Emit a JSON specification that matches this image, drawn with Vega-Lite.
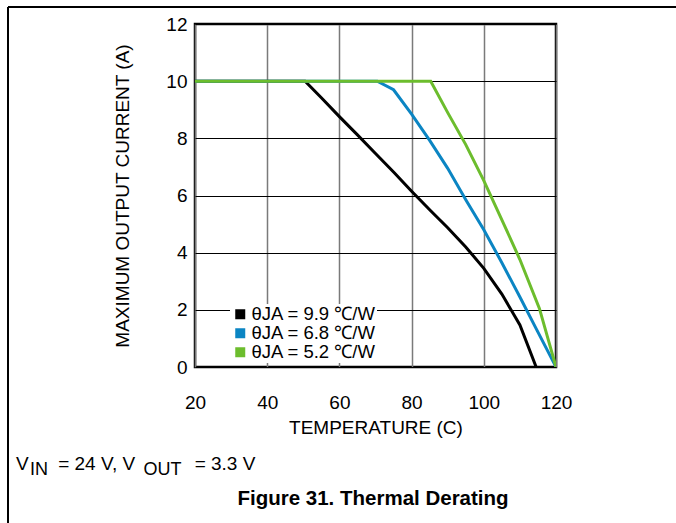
{
  "$schema": "https://vega.github.io/schema/vega-lite/v6.json",
  "width": 361,
  "height": 343,
  "autosize": {"type": "none"},
  "padding": {"left": 195, "top": 24, "right": 120, "bottom": 156},
  "background": "white",
  "config": {
    "font": "Liberation Sans",
    "view": {"stroke": "#000000", "strokeWidth": 2.5},
    "axis": {
      "labelFont": "Liberation Sans",
      "labelFontSize": 19,
      "labelColor": "#000000",
      "labelFlush": false,
      "labelOverlap": false,
      "titleFont": "Liberation Sans",
      "titleFontSize": 19,
      "titleFontWeight": "normal",
      "titleColor": "#000000",
      "ticks": false,
      "domain": false,
      "grid": true
    },
    "axisX": {
      "labelPadding": 26,
      "titlePadding": 6,
      "gridColor": "#7a7a7a",
      "gridWidth": 1.5,
      "gridOpacity": 1
    },
    "axisY": {
      "labelPadding": 8,
      "titlePadding": 33,
      "gridColor": "#000000",
      "gridWidth": 1.2,
      "gridOpacity": 1
    },
    "legend": {
      "labelFont": "Liberation Sans",
      "labelFontSize": 18.5,
      "labelColor": "#000000"
    }
  },
  "layer": [
    {
      "data": {
        "values": [
          {"t": 20, "i": 10, "s": "θJA = 9.9 ℃/W"},
          {"t": 50.5, "i": 10, "s": "θJA = 9.9 ℃/W"},
          {"t": 55, "i": 9.42, "s": "θJA = 9.9 ℃/W"},
          {"t": 60, "i": 8.76, "s": "θJA = 9.9 ℃/W"},
          {"t": 65, "i": 8.12, "s": "θJA = 9.9 ℃/W"},
          {"t": 70, "i": 7.47, "s": "θJA = 9.9 ℃/W"},
          {"t": 75, "i": 6.82, "s": "θJA = 9.9 ℃/W"},
          {"t": 80, "i": 6.15, "s": "θJA = 9.9 ℃/W"},
          {"t": 85, "i": 5.5, "s": "θJA = 9.9 ℃/W"},
          {"t": 90, "i": 4.87, "s": "θJA = 9.9 ℃/W"},
          {"t": 95, "i": 4.2, "s": "θJA = 9.9 ℃/W"},
          {"t": 100, "i": 3.45, "s": "θJA = 9.9 ℃/W"},
          {"t": 105, "i": 2.55, "s": "θJA = 9.9 ℃/W"},
          {"t": 110, "i": 1.47, "s": "θJA = 9.9 ℃/W"},
          {"t": 114.5, "i": 0, "s": "θJA = 9.9 ℃/W"},
          {"t": 20, "i": 10, "s": "θJA = 6.8 ℃/W"},
          {"t": 70.5, "i": 10, "s": "θJA = 6.8 ℃/W"},
          {"t": 75, "i": 9.7, "s": "θJA = 6.8 ℃/W"},
          {"t": 80, "i": 8.85, "s": "θJA = 6.8 ℃/W"},
          {"t": 85, "i": 7.93, "s": "θJA = 6.8 ℃/W"},
          {"t": 90, "i": 6.95, "s": "θJA = 6.8 ℃/W"},
          {"t": 95, "i": 5.85, "s": "θJA = 6.8 ℃/W"},
          {"t": 100, "i": 4.8, "s": "θJA = 6.8 ℃/W"},
          {"t": 105, "i": 3.65, "s": "θJA = 6.8 ℃/W"},
          {"t": 110, "i": 2.45, "s": "θJA = 6.8 ℃/W"},
          {"t": 115, "i": 1.22, "s": "θJA = 6.8 ℃/W"},
          {"t": 120, "i": 0, "s": "θJA = 6.8 ℃/W"},
          {"t": 20, "i": 10, "s": "θJA = 5.2 ℃/W"},
          {"t": 85.3, "i": 10, "s": "θJA = 5.2 ℃/W"},
          {"t": 90, "i": 8.9, "s": "θJA = 5.2 ℃/W"},
          {"t": 95, "i": 7.78, "s": "θJA = 5.2 ℃/W"},
          {"t": 100, "i": 6.52, "s": "θJA = 5.2 ℃/W"},
          {"t": 105, "i": 5.15, "s": "θJA = 5.2 ℃/W"},
          {"t": 110, "i": 3.76, "s": "θJA = 5.2 ℃/W"},
          {"t": 115.4, "i": 2.05, "s": "θJA = 5.2 ℃/W"},
          {"t": 120, "i": 0, "s": "θJA = 5.2 ℃/W"}
        ]
      },
      "mark": {"type": "line", "strokeWidth": 3, "clip": true},
      "encoding": {
        "x": {
          "field": "t",
          "type": "quantitative",
          "scale": {"domain": [20, 120], "nice": false, "zero": false},
          "axis": {"title": "TEMPERATURE (C)", "values": [20, 40, 60, 80, 100, 120]}
        },
        "y": {
          "field": "i",
          "type": "quantitative",
          "scale": {"domain": [0, 12], "nice": false, "zero": false},
          "axis": {"title": "MAXIMUM OUTPUT CURRENT (A)", "values": [0, 2, 4, 6, 8, 10, 12]}
        },
        "color": {
          "field": "s",
          "type": "nominal",
          "scale": {
            "domain": ["θJA = 9.9 ℃/W", "θJA = 6.8 ℃/W", "θJA = 5.2 ℃/W"],
            "range": ["#000000", "#0b85c3", "#6cbd2d"]
          },
          "legend": {
            "title": null,
            "orient": "none",
            "legendX": 35,
            "legendY": 280,
            "padding": 1,
            "rowPadding": -3,
            "fillColor": "#ffffff",
            "symbolType": "square",
            "symbolSize": 100,
            "symbolOffset": 0,
            "labelOffset": 2,
            "encode": {
              "symbols": {
                "update": {
                  "fill": {"scale": "color", "field": "value"},
                  "fillOpacity": {"value": 1},
                  "strokeWidth": {"value": 0}
                }
              }
            }
          }
        },
        "order": {"field": "t", "type": "quantitative"}
      }
    },
    {
      "data": {"values": [{}]},
      "mark": {"type": "rule", "color": "#000000", "strokeWidth": 2, "clip": false},
      "encoding": {
        "x": {"datum": -31.8, "type": "quantitative", "scale": {"domain": [20, 120], "nice": false, "zero": false}, "axis": {"title": "TEMPERATURE (C)", "values": [20, 40, 60, 80, 100, 120]}},
        "y": {"datum": 12.595, "type": "quantitative", "scale": {"domain": [0, 12], "nice": false, "zero": false}, "axis": {"title": "MAXIMUM OUTPUT CURRENT (A)", "values": [0, 2, 4, 6, 8, 10, 12]}},
        "y2": {"datum": -5.8}
      }
    },
    {
      "data": {"values": [{}]},
      "mark": {"type": "rule", "color": "#000000", "strokeWidth": 2, "clip": false},
      "encoding": {
        "x": {"datum": -31.8, "type": "quantitative", "scale": {"domain": [20, 120], "nice": false, "zero": false}, "axis": {"title": "TEMPERATURE (C)", "values": [20, 40, 60, 80, 100, 120]}},
        "x2": {"datum": 155},
        "y": {"datum": 12.595, "type": "quantitative", "scale": {"domain": [0, 12], "nice": false, "zero": false}, "axis": {"title": "MAXIMUM OUTPUT CURRENT (A)", "values": [0, 2, 4, 6, 8, 10, 12]}}
      }
    },
    {
      "data": {"values": [{}]},
      "mark": {"type": "text", "text": "V", "fontSize": 19, "align": "left", "baseline": "alphabetic", "color": "#000000"},
      "encoding": {
        "x": {"datum": -29.58, "type": "quantitative", "scale": {"domain": [20, 120], "nice": false, "zero": false}, "axis": {"title": "TEMPERATURE (C)", "values": [20, 40, 60, 80, 100, 120]}},
        "y": {"datum": -3.604, "type": "quantitative", "scale": {"domain": [0, 12], "nice": false, "zero": false}, "axis": {"title": "MAXIMUM OUTPUT CURRENT (A)", "values": [0, 2, 4, 6, 8, 10, 12]}}
      }
    },
    {
      "data": {"values": [{}]},
      "mark": {"type": "text", "text": "IN", "fontSize": 18, "align": "left", "baseline": "alphabetic", "color": "#000000"},
      "encoding": {
        "x": {"datum": -25.7, "type": "quantitative", "scale": {"domain": [20, 120], "nice": false, "zero": false}, "axis": {"title": "TEMPERATURE (C)", "values": [20, 40, 60, 80, 100, 120]}},
        "y": {"datum": -3.779, "type": "quantitative", "scale": {"domain": [0, 12], "nice": false, "zero": false}, "axis": {"title": "MAXIMUM OUTPUT CURRENT (A)", "values": [0, 2, 4, 6, 8, 10, 12]}}
      }
    },
    {
      "data": {"values": [{}]},
      "mark": {"type": "text", "text": "= 24 V, V", "fontSize": 19, "align": "left", "baseline": "alphabetic", "color": "#000000"},
      "encoding": {
        "x": {"datum": -17.9, "type": "quantitative", "scale": {"domain": [20, 120], "nice": false, "zero": false}, "axis": {"title": "TEMPERATURE (C)", "values": [20, 40, 60, 80, 100, 120]}},
        "y": {"datum": -3.604, "type": "quantitative", "scale": {"domain": [0, 12], "nice": false, "zero": false}, "axis": {"title": "MAXIMUM OUTPUT CURRENT (A)", "values": [0, 2, 4, 6, 8, 10, 12]}}
      }
    },
    {
      "data": {"values": [{}]},
      "mark": {"type": "text", "text": "OUT", "fontSize": 18, "align": "left", "baseline": "alphabetic", "color": "#000000"},
      "encoding": {
        "x": {"datum": 5.7, "type": "quantitative", "scale": {"domain": [20, 120], "nice": false, "zero": false}, "axis": {"title": "TEMPERATURE (C)", "values": [20, 40, 60, 80, 100, 120]}},
        "y": {"datum": -3.779, "type": "quantitative", "scale": {"domain": [0, 12], "nice": false, "zero": false}, "axis": {"title": "MAXIMUM OUTPUT CURRENT (A)", "values": [0, 2, 4, 6, 8, 10, 12]}}
      }
    },
    {
      "data": {"values": [{}]},
      "mark": {"type": "text", "text": "= 3.3 V", "fontSize": 19, "align": "left", "baseline": "alphabetic", "color": "#000000"},
      "encoding": {
        "x": {"datum": 19.9, "type": "quantitative", "scale": {"domain": [20, 120], "nice": false, "zero": false}, "axis": {"title": "TEMPERATURE (C)", "values": [20, 40, 60, 80, 100, 120]}},
        "y": {"datum": -3.604, "type": "quantitative", "scale": {"domain": [0, 12], "nice": false, "zero": false}, "axis": {"title": "MAXIMUM OUTPUT CURRENT (A)", "values": [0, 2, 4, 6, 8, 10, 12]}}
      }
    },
    {
      "data": {"values": [{}]},
      "mark": {"type": "text", "text": "Figure 31. Thermal Derating", "fontSize": 20.5, "fontWeight": "bold", "align": "center", "baseline": "alphabetic", "color": "#000000"},
      "encoding": {
        "x": {"datum": 69.31, "type": "quantitative", "scale": {"domain": [20, 120], "nice": false, "zero": false}, "axis": {"title": "TEMPERATURE (C)", "values": [20, 40, 60, 80, 100, 120]}},
        "y": {"datum": -4.828, "type": "quantitative", "scale": {"domain": [0, 12], "nice": false, "zero": false}, "axis": {"title": "MAXIMUM OUTPUT CURRENT (A)", "values": [0, 2, 4, 6, 8, 10, 12]}}
      }
    }
  ]
}
